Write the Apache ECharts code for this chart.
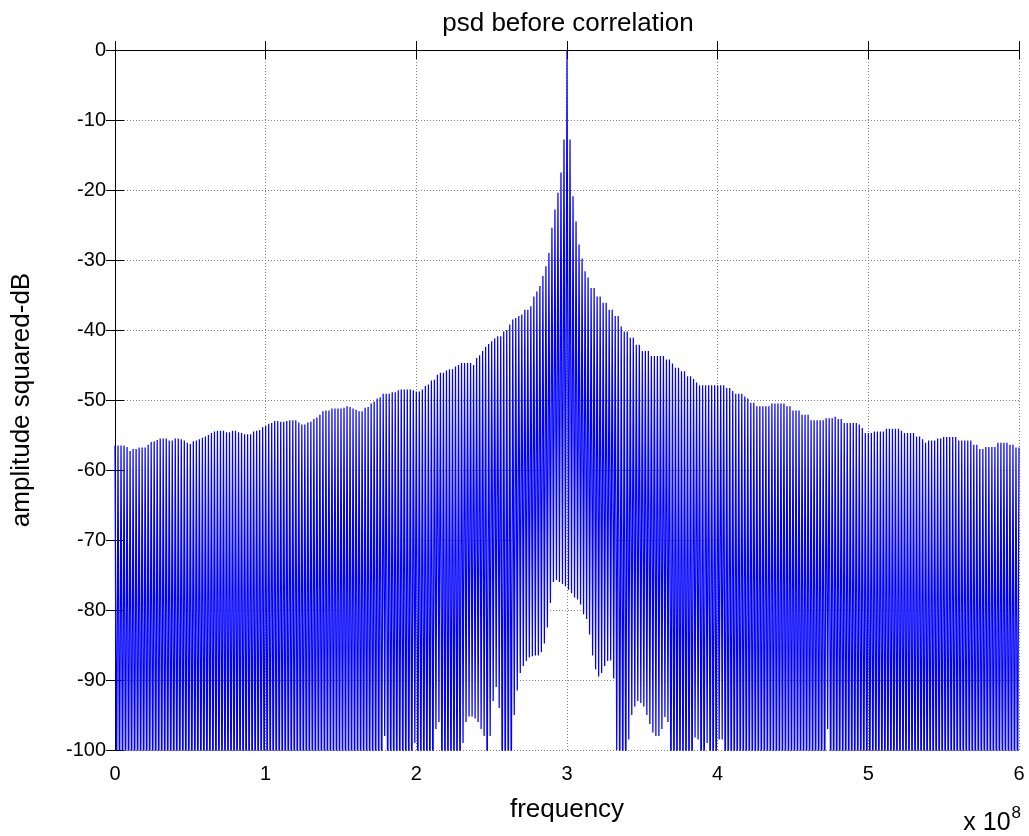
<!DOCTYPE html>
<html>
<head>
<meta charset="utf-8">
<script src="https://cdn.jsdelivr.net/npm/echarts@6/dist/echarts.min.js"></script>
<style>
  html, body { margin: 0; padding: 0; background: #fff; }
  #chart-psd-box { width: 1029px; height: 836px; }
</style>
</head>
<body>
<div id="chart-psd-box"></div>
<script>
// 频率步长 (x 10^8)，峰值点在 0,0.02,...,6，谷值点在两峰之间
var freqStep = 0.02;

// 上包络：每个周期的峰值 (dB)
var peakDb = [
    -56.5, -56.5, -56.5, -56.5, -56.7, -57.3, -57.0, -57.0, -56.8, -56.8,
    -56.8, -56.4, -56.0, -55.9, -55.7, -55.5, -55.5, -55.5, -55.8, -55.8,
    -55.5, -55.5, -55.6, -55.8, -56.1, -56.3, -55.9, -55.8, -55.6, -55.4,
    -55.2, -55.0, -54.7, -54.5, -54.4, -54.4, -54.4, -54.6, -54.6, -54.4,
    -54.4, -54.6, -54.7, -54.9, -54.9, -54.9, -54.5, -54.4, -54.3, -53.9,
    -53.7, -53.4, -53.3, -53.0, -53.0, -53.1, -53.1, -53.0, -52.9, -52.9,
    -52.9, -53.2, -53.5, -53.5, -53.2, -53.1, -52.7, -52.5, -52.1, -51.6,
    -51.5, -51.5, -51.2, -51.2, -51.2, -51.2, -51.1, -50.9, -51.0, -51.2,
    -51.4, -51.6, -51.6, -51.1, -51.0, -50.5, -50.2, -49.8, -49.6, -49.1,
    -49.1, -49.1, -48.9, -48.9, -48.6, -48.5, -48.5, -48.5, -48.5, -48.6,
    -48.8, -48.8, -48.5, -48.0, -47.8, -47.2, -47.1, -46.4, -46.1, -46.1,
    -45.8, -45.6, -45.6, -45.2, -45.0, -44.7, -44.7, -44.7, -44.7, -45.0,
    -44.0, -43.6, -43.0, -42.4, -42.0, -41.6, -41.2, -40.9, -40.9, -40.2,
    -40.0, -39.2, -38.5, -38.3, -38.0, -37.8, -37.1, -37.1, -36.6, -35.2,
    -34.5, -33.7, -32.3, -30.9, -29.0, -25.4, -22.8, -20.4, -17.5, -12.8,
    0, -12.8, -20.9, -24.5, -27.8, -29.8, -31.6, -32.5, -34.0, -34.0,
    -35.2, -35.2, -36.1, -36.1, -37.1, -37.1, -38.0, -38.0, -39.5, -40.2,
    -40.2, -41.1, -41.1, -42.1, -42.1, -43.0, -43.0, -43.0, -43.7, -43.7,
    -43.7, -43.7, -43.7, -44.2, -44.2, -44.8, -45.4, -45.4, -45.9, -45.9,
    -46.6, -46.6, -47.0, -47.5, -47.9, -47.9, -47.9, -47.9, -47.9, -47.9,
    -47.9, -47.9, -47.9, -48.3, -48.3, -48.7, -49.1, -49.1, -49.1, -49.5,
    -49.8, -50.4, -50.4, -50.9, -50.9, -50.9, -50.9, -50.9, -50.5, -50.5,
    -50.5, -50.5, -50.5, -50.9, -50.9, -51.5, -51.5, -51.5, -52.1, -52.1,
    -52.1, -52.9, -52.9, -52.9, -52.9, -52.9, -52.6, -52.6, -52.6, -52.4,
    -52.7, -52.7, -53.3, -53.3, -53.3, -53.3, -53.3, -53.5, -54.0, -54.7,
    -54.7, -54.7, -54.5, -54.5, -54.5, -54.5, -54.1, -54.1, -54.1, -54.1,
    -54.1, -54.4, -54.7, -54.7, -54.7, -54.7, -55.2, -55.2, -55.6, -56.1,
    -55.8, -55.8, -55.8, -55.5, -55.5, -55.3, -55.3, -55.3, -55.3, -55.3,
    -55.8, -55.8, -55.8, -55.8, -55.8, -56.4, -56.4, -57.0, -57.0, -56.7,
    -56.7, -56.7, -56.7, -56.1, -56.1, -56.1, -56.1, -56.4, -56.4, -56.8,
    -56.8
];

// 下包络：两峰之间的谷值 (dB)，-110 表示落到坐标轴以下
var troughDb = [
    -110, -110, -110, -110, -110, -110, -110, -110, -110, -110,
    -110, -110, -110, -110, -110, -110, -110, -110, -110, -110,
    -110, -110, -110, -110, -110, -110, -110, -110, -110, -110,
    -110, -110, -110, -110, -110, -110, -110, -110, -110, -110,
    -110, -110, -110, -110, -110, -110, -110, -110, -110, -110,
    -110, -110, -110, -110, -110, -110, -110, -110, -110, -110,
    -110, -110, -110, -110, -110, -110, -110, -110, -110, -110,
    -110, -110, -110, -110, -110, -110, -110, -110, -110, -110,
    -110, -110, -110, -110, -110, -110, -110, -110, -110, -98,
    -110, -110, -110, -110, -110, -110, -110, -110, -110, -99,
    -110, -110, -110, -110, -110, -110, -97, -96, -110, -110,
    -110, -110, -110, -110, -110, -99, -96, -95.2, -95.2, -95.5,
    -96, -97, -98, -110, -98, -93, -91, -94, -110, -110,
    -110, -110, -95, -91.5, -89, -88, -87.3, -86.8, -86.6, -86.5,
    -86.5, -86, -84.8, -82.5, -79, -76, -75.7, -76, -76.3, -76.6,
    -77.1, -77.6, -78.2, -78.5, -79.2, -80.6, -81.3, -83.5, -86.5, -88.5,
    -89.5, -89, -88, -87.3, -87.2, -89.8, -100, -110, -110, -110,
    -98.5, -95, -93.8, -93, -93.3, -93.8, -95, -96.3, -97.5, -98,
    -98, -97, -95.3, -96, -110, -110, -110, -110, -110, -110,
    -110, -110, -98.2, -98.5, -110, -110, -99, -110, -110, -110,
    -98.5, -98.5, -110, -110, -110, -110, -110, -110, -110, -110,
    -110, -110, -110, -110, -110, -110, -110, -110, -110, -110,
    -110, -110, -110, -110, -110, -110, -110, -110, -110, -110,
    -110, -110, -110, -110, -110, -110, -97, -110, -110, -110,
    -110, -110, -110, -110, -110, -110, -110, -110, -110, -110,
    -110, -110, -110, -110, -110, -110, -110, -110, -110, -110,
    -110, -110, -110, -110, -110, -110, -110, -110, -110, -110,
    -110, -110, -110, -110, -110, -110, -110, -110, -110, -110,
    -110, -110, -110, -110, -110, -110, -110, -110, -110, -110,
    -110, -110, -110, -110, -110, -110, -110, -110, -110, -110
];

var xTickLabels = ['0', '1', '2', '3', '4', '5', '6'];

var psdChart = echarts.init(document.getElementById('chart-psd-box'));

// 峰谷交替连成一条线
var psdData = [];
for (var i = 0; i < peakDb.length; i++) {
    psdData.push([i * freqStep, peakDb[i]]);
    if (i < troughDb.length) {
        psdData.push([i * freqStep + freqStep / 2, troughDb[i]]);
    }
}

var fontName = 'Liberation Sans, Arial, sans-serif';
var axisBlack = { lineStyle: { color: '#000', width: 1 } };
var gridDots = { show: true, lineStyle: { color: '#808080', width: 1, type: [1, 2] } };

var psdOption = {
    animation: false,
    backgroundColor: '#fff',
    title: {
        text: 'psd before correlation',
        left: 563,
        top: 6,
        textAlign: 'center',
        textStyle: { color: '#000', fontSize: 26, fontWeight: 'normal', fontFamily: fontName }
    },
    grid: { left: 115, right: 10, top: 50, bottom: 86, containLabel: false },
    xAxis: [{
        type: 'value',
        min: 0,
        max: 6,
        interval: 1,
        position: 'bottom',
        name: 'frequency',
        nameLocation: 'middle',
        nameGap: 47,
        nameTextStyle: { color: '#000', fontSize: 26, fontFamily: fontName },
        axisLine: axisBlack,
        axisTick: { inside: true, length: 9, lineStyle: { color: '#000' } },
        axisLabel: {
            color: '#000', fontSize: 20, fontFamily: fontName, margin: 14,
            formatter: function (v) { return xTickLabels[Math.round(v)]; }
        },
        splitLine: gridDots
    }, {
        type: 'value',
        min: 0,
        max: 6,
        interval: 1,
        position: 'top',
        axisLine: axisBlack,
        axisTick: { inside: true, length: 9, lineStyle: { color: '#000' } },
        axisLabel: { show: false },
        splitLine: { show: false }
    }],
    yAxis: [{
        type: 'value',
        min: -100,
        max: 0,
        interval: 10,
        position: 'left',
        name: 'amplitude squared-dB',
        nameLocation: 'middle',
        nameGap: 80,
        nameTextStyle: { color: '#000', fontSize: 26, fontFamily: fontName },
        axisLine: axisBlack,
        axisTick: { inside: true, length: 9, lineStyle: { color: '#000' } },
        axisLabel: { color: '#000', fontSize: 20, fontFamily: fontName, margin: 9 },
        splitLine: gridDots
    }, {
        type: 'value',
        min: -100,
        max: 0,
        interval: 10,
        position: 'right',
        axisLine: axisBlack,
        axisTick: { inside: true, length: 9, lineStyle: { color: '#000' } },
        axisLabel: { show: false },
        splitLine: { show: false }
    }],
    graphic: [{
        type: 'text',
        right: 8,
        bottom: 0,
        style: {
            text: '{b|x 10}{s|8}',
            rich: {
                b: { fontSize: 25, fontFamily: fontName, fill: '#000', verticalAlign: 'bottom' },
                s: { fontSize: 17, fontFamily: fontName, fill: '#000', padding: [0, 0, 14, 1] }
            }
        }
    }],
    series: [{
        name: 'psd',
        type: 'line',
        data: psdData,
        showSymbol: false,
        symbol: 'none',
        clip: true,
        lineStyle: { color: '#0000ff', width: 1.25 },
        z: 3
    }]
};
psdChart.setOption(psdOption);
</script>
</body>
</html>
